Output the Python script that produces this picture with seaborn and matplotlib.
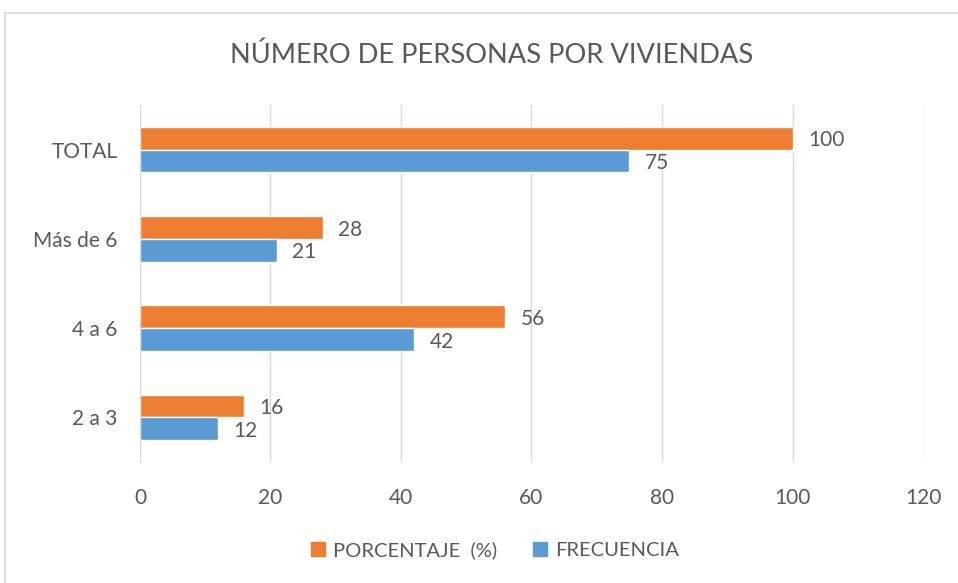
import matplotlib
matplotlib.use("Agg")
import matplotlib.pyplot as plt
import matplotlib.patches as mpatches
import seaborn as sns
import pandas as pd


categorias = ["TOTAL", "Más de 6", "4 a 6", "2 a 3"]
porcentaje = [100, 28, 56, 16]
frecuencia = [75, 21, 42, 12]
series = ["PORCENTAJE  (%)", "FRECUENCIA"]
ticks_x = [0, 20, 40, 60, 80, 100, 120]

df = pd.DataFrame({
    "categoria": categorias * 2,
    "valor": porcentaje + frecuencia,
    "serie": [series[0]] * len(categorias) + [series[1]] * len(categorias),
})

sns.set_style("white")
plt.rcParams["font.family"] = ["Lato", "DejaVu Sans"]

texto = "#595959"
grid = "#d9d9d9"

fig = plt.figure(figsize=(9.58, 5.83), dpi=100)
ax = fig.add_axes([0.1461, 0.2075, 0.8174, 0.6124])

sns.barplot(
    data=df,
    y="categoria",
    x="valor",
    hue="serie",
    order=categorias,
    hue_order=series,
    palette=["#ED7D31", "#5B9BD5"],
    orient="h",
    width=0.51,
    saturation=1,
    legend=False,
    ax=ax,
)

# etiquetas de valor, alineadas a la linea base como en Excel
for cont in ax.containers:
    etiquetas = ax.bar_label(cont, padding=11, fontsize=15, color=texto)
    for t in etiquetas:
        t.set_va("center_baseline")

ax.set_xlim(0, 120)
ax.set_ylim(3.5, -0.5)
ax.set_xticks(ticks_x)
ax.xaxis.grid(True, color=grid, linewidth=1)
ax.set_axisbelow(True)
ax.set_xlabel("")
ax.set_ylabel("")
ax.tick_params(axis="both", length=0, labelsize=15, colors=texto)
ax.tick_params(axis="x", pad=19)
ax.tick_params(axis="y", pad=16)
for s in ["top", "right", "bottom"]:
    ax.spines[s].set_visible(False)
ax.spines["left"].set_color(grid)

fig.text(492 / 958, 1 - 55 / 583, "NÚMERO DE PERSONAS POR VIVIENDAS",
         ha="center", va="center", fontsize=19.6, color=texto)

handles = [mpatches.Patch(color="#ED7D31", label=series[0]),
           mpatches.Patch(color="#5B9BD5", label=series[1])]
fig.legend(handles=handles, loc="center",
           bbox_to_anchor=(495 / 958, 1 - 550 / 583),
           ncol=2, frameon=False, fontsize=14.5, labelcolor=texto,
           handlelength=0.7, handleheight=0.7, handletextpad=0.4,
           columnspacing=1.8)

borde = mpatches.Rectangle((5 / 958, -0.01), 1.0, 1 - 13 / 583 + 0.01,
                           transform=fig.transFigure, fill=False,
                           edgecolor=grid, linewidth=1.2)
fig.patches.append(borde)

fig.savefig("out.png", dpi=100)
